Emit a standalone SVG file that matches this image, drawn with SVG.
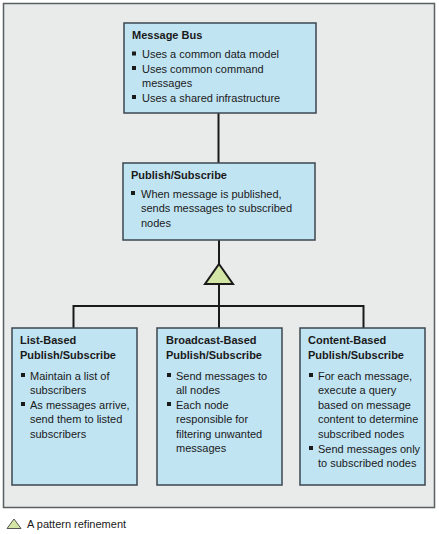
<svg xmlns="http://www.w3.org/2000/svg" width="439" height="534" viewBox="0 0 439 534">
<style>
.frame{fill:#e9eaea;stroke:#5a5f62;stroke-width:1.5}
.box{fill:#c1e4f3;stroke:#3b4750;stroke-width:1.5}
.t{font-family:"Liberation Sans",Arial,sans-serif;font-size:11px;fill:#1a1a1a}
.b{font-weight:bold}
.con{stroke:#1a1a1a;stroke-width:2;fill:none}
.tri{fill:#d4e6a6;stroke:#1a1a1a;stroke-width:2;stroke-linejoin:miter}
.sq{fill:#1a1a1a}
</style>
<rect width="439" height="534" fill="#ffffff"/>
<rect class="frame" x="3.5" y="3.5" width="431" height="504"/>
<g id="connectors">
<line class="con" x1="218.5" y1="113" x2="218.5" y2="163"/>
<line class="con" x1="219" y1="240" x2="219" y2="264"/>
<line class="con" x1="219" y1="284" x2="219" y2="328"/>
<polyline class="con" points="73.5,328 73.5,306 363.5,306 363.5,328"/>
<polygon class="tri" points="219,264 233,284 205,284"/>
</g>
<g id="message-bus">
<rect class="box" x="124" y="23" width="192" height="90"/>
<text class="t b" x="132" y="39">Message Bus</text>
<rect class="sq" x="132" y="51.5" width="4" height="4"/>
<text class="t" x="142" y="58">Uses a common data model</text>
<rect class="sq" x="132" y="66" width="4" height="4"/>
<text class="t" x="142" y="72.5">Uses common command</text>
<text class="t" x="142" y="87">messages</text>
<rect class="sq" x="132" y="95" width="4" height="4"/>
<text class="t" x="142" y="101.5">Uses a shared infrastructure</text>
</g>
<g id="publish-subscribe">
<rect class="box" x="123" y="163" width="192" height="77"/>
<text class="t b" x="131" y="179">Publish/Subscribe</text>
<rect class="sq" x="131" y="191" width="4" height="4"/>
<text class="t" x="141" y="197.5">When message is published,</text>
<text class="t" x="141" y="212">sends messages to subscribed</text>
<text class="t" x="141" y="226.5">nodes</text>
</g>
<g id="list-based">
<rect class="box" x="12" y="328" width="125" height="157"/>
<text class="t b" x="20" y="344">List-Based</text>
<text class="t b" x="20" y="358.5">Publish/Subscribe</text>
<rect class="sq" x="21" y="373" width="4" height="4"/>
<text class="t" x="30" y="379.5">Maintain a list of</text>
<text class="t" x="30" y="394">subscribers</text>
<rect class="sq" x="21" y="402" width="4" height="4"/>
<text class="t" x="30" y="408.5">As messages arrive,</text>
<text class="t" x="30" y="423">send them to listed</text>
<text class="t" x="30" y="437.5">subscribers</text>
</g>
<g id="broadcast-based">
<rect class="box" x="157" y="328" width="125" height="157"/>
<text class="t b" x="166" y="344">Broadcast-Based</text>
<text class="t b" x="166" y="358.5">Publish/Subscribe</text>
<rect class="sq" x="167" y="373" width="4" height="4"/>
<text class="t" x="176" y="379.5">Send messages to</text>
<text class="t" x="176" y="394">all nodes</text>
<rect class="sq" x="167" y="402" width="4" height="4"/>
<text class="t" x="176" y="408.5">Each node</text>
<text class="t" x="176" y="423">responsible for</text>
<text class="t" x="176" y="437.5">filtering unwanted</text>
<text class="t" x="176" y="452">messages</text>
</g>
<g id="content-based">
<rect class="box" x="300" y="328" width="125" height="157"/>
<text class="t b" x="308" y="344">Content-Based</text>
<text class="t b" x="308" y="358.5">Publish/Subscribe</text>
<rect class="sq" x="309" y="373" width="4" height="4"/>
<text class="t" x="318" y="379.5">For each message,</text>
<text class="t" x="318" y="394">execute a query</text>
<text class="t" x="318" y="408.5">based on message</text>
<text class="t" x="318" y="423">content to determine</text>
<text class="t" x="318" y="437.5">subscribed nodes</text>
<rect class="sq" x="309" y="446" width="4" height="4"/>
<text class="t" x="318" y="452.5">Send messages only</text>
<text class="t" x="318" y="467">to subscribed nodes</text>
</g>
<g id="legend">
<polygon points="14,519 21,528.5 7,528.5" fill="#d4e6a6" stroke="#555" stroke-width="1"/>
<text class="t" x="27" y="528">A pattern refinement</text>
</g>
</svg>
